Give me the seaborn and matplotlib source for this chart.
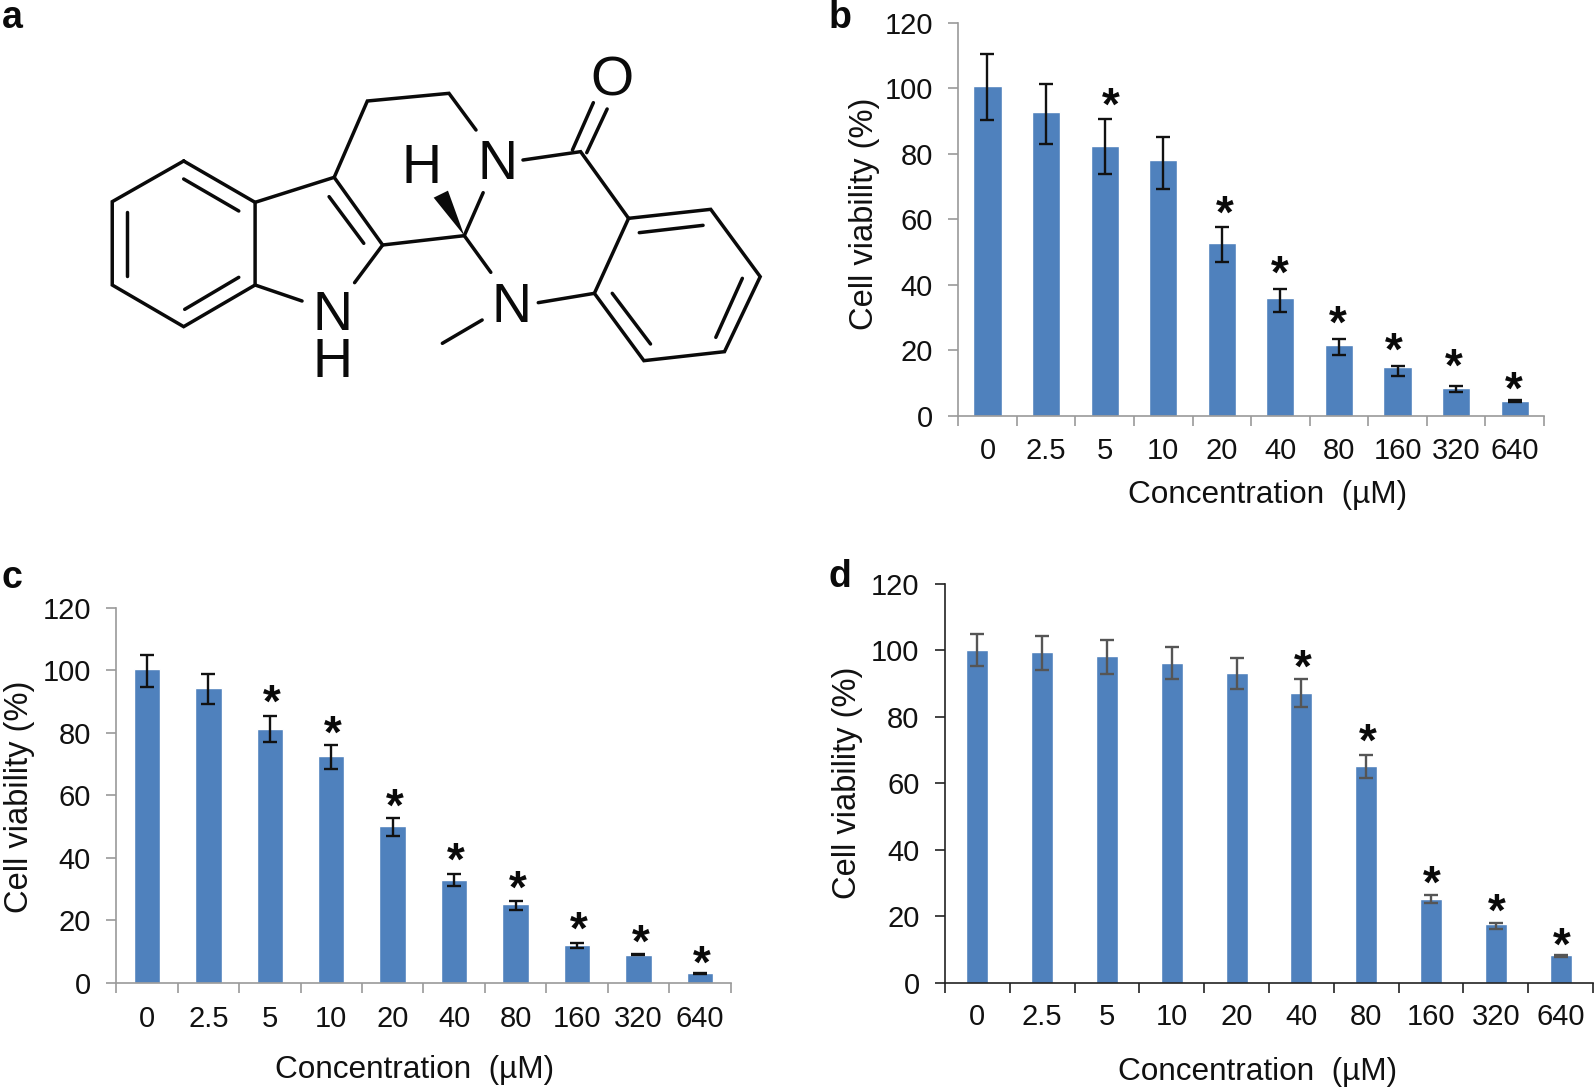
import matplotlib
matplotlib.use("Agg")
import matplotlib.pyplot as plt
import seaborn as sns

W, H = 1594, 1088
concentrations = ["0", "2.5", "5", "10", "20", "40", "80", "160", "320", "640"]
yticks = [0, 20, 40, 60, 80, 100, 120]

values_b = [100.8, 92.9, 82.5, 78, 52.9, 35.9, 21.7, 14.9, 8.6, 4.6]
err_high_b = [110.5, 101.2, 90.6, 85, 57.6, 38.8, 23.4, 15.4, 9.2, 4.8]
err_low_b = [90.3, 82.9, 73.9, 69.2, 47.1, 31.8, 18.6, 12.3, 7.3, 4.2]
star_cat_b = ["5", "20", "40", "80", "160", "320", "640"]
star_y_b = [96.7, 63.7, 45.6, 30.1, 22.1, 17.1, 10.2]
star_shift_b = [6, 3, -1, -1, -4, -2, -1]

values_c = [100.4, 94.4, 81.3, 72.6, 50.3, 33, 25.2, 12.2, 9, 3.1]
err_high_c = [105.1, 99, 85.5, 76, 52.7, 34.7, 26.3, 12.7, 9.2, 3.2]
err_low_c = [94.6, 89.3, 77, 68.4, 47, 31, 23.1, 11.1, 8.7, 2.7]
star_cat_c = ["5", "10", "20", "40", "80", "160", "320", "640"]
star_y_c = [91.9, 81.8, 58.5, 41.2, 32.2, 19.1, 14.9, 8.1]
star_shift_c = [2, 2, 2, 2, 2, 2, 2, 2]

values_d = [100.2, 99.6, 98.4, 96.1, 93.3, 87.1, 65.1, 25.3, 17.5, 8.4]
err_high_d = [104.9, 104.3, 103, 101, 97.6, 91.4, 68.5, 26.4, 17.8, 8.2]
err_low_d = [95.3, 94.2, 92.9, 91.3, 88.5, 82.9, 61.5, 23.9, 16, 7.8]
star_cat_d = ["40", "80", "160", "320", "640"]
star_y_d = [97, 74.5, 31.9, 23.4, 13.2]
star_shift_d = [1, 2, 1, 1, 1]

sns.set_theme(style="white")
plt.rcParams["font.family"] = ["Liberation Sans", "DejaVu Sans"]
BLUE = "#4F81BD"

fig = plt.figure(figsize=(W / 100, H / 100), dpi=100, facecolor="white")


def panel(box, values, err_low, err_high, star_cat, star_y, star_shift, width, spine, ecolor, ylab, xlab, tickpad):
    l, t, r, b = box
    ax = fig.add_axes([l / W, 1 - b / H, (r - l) / W, (b - t) / H])
    sns.barplot(x=concentrations, y=values, order=concentrations, color=BLUE,
                saturation=1, width=width, errorbar=None, ax=ax)
    mid = [(a + c) / 2 for a, c in zip(err_low, err_high)]
    half = [(c - a) / 2 for a, c in zip(err_low, err_high)]
    ax.errorbar(range(len(values)), mid, yerr=half, fmt="none", ecolor=ecolor,
                elinewidth=1.7, capsize=4.7, capthick=1.7)
    ax.set_xlim(-0.5, 9.5)
    ax.set_ylim(0, 120)
    sns.despine(ax=ax)
    for s in ("left", "bottom"):
        ax.spines[s].set_color(spine)
        ax.spines[s].set_linewidth(1.2)
    ax.set_yticks(yticks, [str(v) for v in yticks])
    ax.tick_params(axis="y", length=7.2, width=1.2, color=spine, left=True, pad=11, labelsize=21, labelcolor="#111111")
    ax.set_xticks([i - 0.5 for i in range(11)], [""] * 11)
    ax.tick_params(axis="x", which="major", length=7.2, width=1.2, color=spine, bottom=True)
    ax.set_xticks(range(10), concentrations, minor=True)
    ax.tick_params(axis="x", which="minor", length=0, pad=tickpad, labelsize=21, labelcolor="#111111")
    ax.set_xlabel("Concentration  (µM)", fontsize=22.7, color="#111111", va="center", ha="center")
    ax.xaxis.set_label_coords(xlab[0] / W, 1 - xlab[1] / H, transform=fig.transFigure)
    ax.set_ylabel("Cell viability (%)", fontsize=23.5, color="#111111", va="center", ha="center")
    ax.yaxis.set_label_coords(ylab[0] / W, 1 - ylab[1] / H, transform=fig.transFigure)
    for cat, y, dx in zip(star_cat, star_y, star_shift):
        ax.annotate("*", (concentrations.index(cat), y), xytext=(dx * 0.72, -15), textcoords="offset points",
                    ha="center", va="baseline", fontsize=33, fontweight="bold", color="#0a0a0a")
    return ax


panel((958.2, 22.7, 1544, 416), values_b, err_low_b, err_high_b, star_cat_b, star_y_b, star_shift_b, 0.48,
      "#9a9a9a", "#111111", (864, 214), (1268, 495), 15)
panel((116.3, 608, 730.5, 982.6), values_c, err_low_c, err_high_c, star_cat_c, star_y_c, star_shift_c, 0.43,
      "#9a9a9a", "#111111", (20, 797), (415, 1070), 16)
panel((944.9, 584, 1593, 982.6), values_d, err_low_d, err_high_d, star_cat_d, star_y_d, star_shift_d, 0.34,
      "#222222", "#555555", (848, 783), (1258, 1072), 14.5)

# panel letters
for letter, x, y in [("a", 12, 18), ("b", 840, 18), ("c", 12, 578), ("d", 840, 577)]:
    fig.text(x / W, 1 - y / H, letter, fontsize=27, fontweight="bold", ha="center", va="center", color="#0a0a0a")

# panel a: structural formula, traced in zoom-view units
SX, SY = 1.96, 3.0
bond_paths = [
    [(360, 483), (220, 605), (220, 855), (360, 980), (500, 855), (500, 607), (360, 483)],
    [(360, 537), (468, 633)], [(248, 635), (248, 828)], [(362, 928), (468, 832)],
    [(500, 607), (655, 532), (750, 735), (695, 848)], [(645, 590), (713, 730)],
    [(500, 855), (592, 903)],
    [(655, 532), (720, 303), (880, 280), (933, 390)],
    [(750, 735), (910, 707), (947, 578)], [(910, 707), (962, 817)],
    [(1025, 480), (1138, 455), (1232, 655)],
    [(1122, 450), (1163, 308)], [(1150, 458), (1190, 327)],
    [(1232, 655), (1393, 628), (1490, 830), (1420, 1055), (1262, 1082), (1165, 880), (1232, 655)],
    [(1253, 698), (1378, 676)], [(1455, 835), (1403, 1012)], [(1275, 1032), (1200, 880)],
    [(1055, 908), (1165, 880)], [(945, 960), (867, 1030)],
]
wedge = [(910, 707), (850, 593), (878, 572)]
atoms = [("O", 1200, 225), ("N", 975, 478), ("H", 827, 490), ("N", 652, 930), ("H", 652, 1072), ("N", 1003, 905)]

mol = fig.add_axes([0, 0, 1, 1], facecolor="none")
mol.set_xlim(0, W)
mol.set_ylim(H, 0)
mol.axis("off")
for path in bond_paths:
    mol.plot([p[0] / SX for p in path], [p[1] / SY for p in path], color="#0a0a0a", lw=2.5,
             solid_capstyle="round", solid_joinstyle="miter")
mol.fill([p[0] / SX for p in wedge], [p[1] / SY for p in wedge], color="#0a0a0a", lw=0)
for sym, x, y in atoms:
    mol.text(x / SX, y / SY, sym, fontsize=40, ha="center", va="center_baseline", color="#0a0a0a")

fig.savefig("out.png", dpi=100)
